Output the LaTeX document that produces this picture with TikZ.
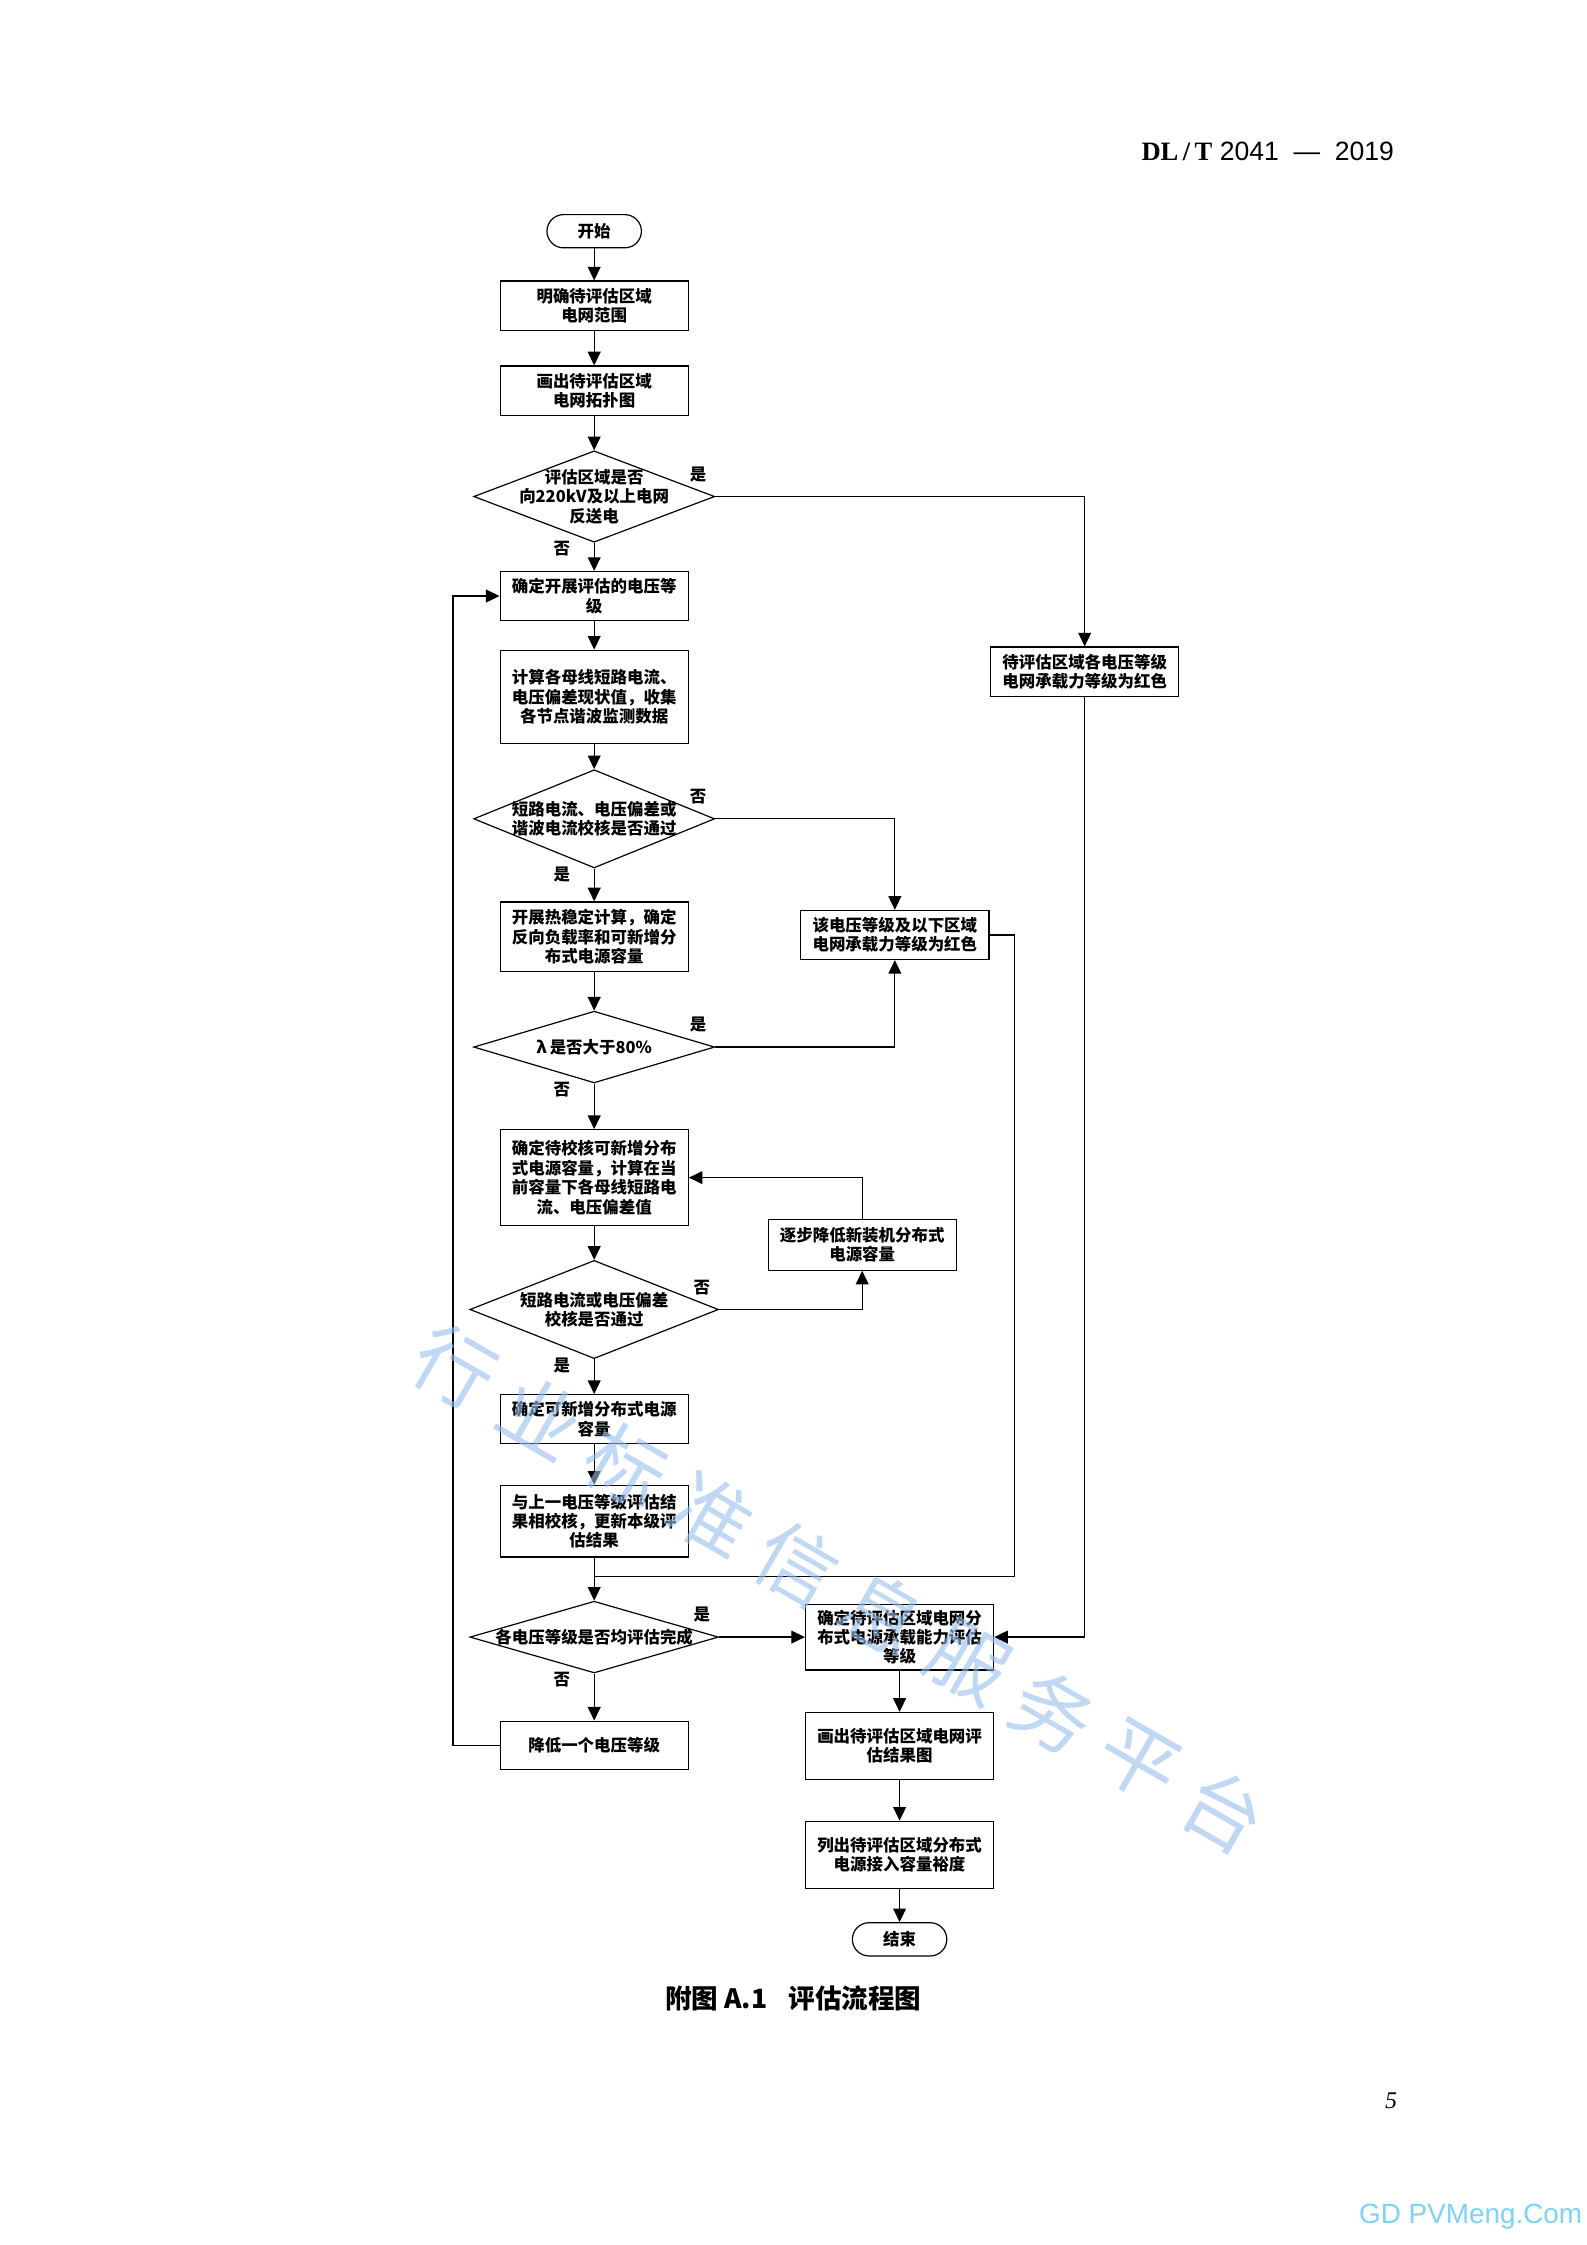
\documentclass[tikz,border=0pt]{standalone}
\usepackage{fontspec}
\setmainfont{Liberation Sans}
\newfontfamily\cjk{Noto Sans CJK SC}
\newfontfamily\tnr{Liberation Serif}
\usepackage{xcolor}
\usetikzlibrary{arrows.meta,shapes.geometric}

\definecolor{wmblue}{RGB}{150,190,238}
\definecolor{siteblue}{RGB}{125,211,247}

\begin{document}
\begin{tikzpicture}[x=0.18953mm,y=-0.18953mm,line width=0.45pt,
        every node/.style={font=\cjk\bfseries\fontsize{6.2}{7.3}\selectfont},
        proc/.style={draw,align=center,inner sep=1pt,minimum width=24.9mm},
        term/.style={draw,rounded corners=2.2mm,minimum width=12.5mm,minimum height=4.4mm,inner sep=0pt},
        decide/.style={draw,diamond,inner sep=0pt,minimum width=31.9mm},
        dtext/.style={align=center,inner sep=0pt},
        lbl/.style={inner sep=0pt},
        wm/.style={text=wmblue,rotate=-30,opacity=0.6,font=\cjk\fontsize{30}{30}\selectfont},
        arr/.style={-{Triangle[length=1.8mm,width=1.7mm]}}]
        \useasboundingbox (0,0) rectangle (1108,1568);
        \fill[white] (0,0) rectangle (1108,1568);

        % page header
        \node[anchor=base east,inner sep=0pt,font=\fontsize{10}{11}\selectfont] (hdr) at (974,112.2)
            {{\tnr\bfseries DL\,/\,T} 2041~~—~~2019};

        % main column
        \node[term] (st) at (415,161.5) {开始};
        \node[proc,minimum height=6.6mm] (b1) at (415,213.7) {明确待评估区域\\电网范围};
        \node[proc,minimum height=6.6mm] (b2) at (415,273) {画出待评估区域\\电网拓扑图};
        \node[decide,minimum height=12.1mm] (d1) at (415,346.8) {};
        \node[dtext] (d1t) at (d1) {评估区域是否\\向220kV及以上电网\\反送电};
        \node[proc,minimum height=6.5mm] (b3) at (415,416.3) {确定开展评估的电压等\\级};
        \node[proc,minimum height=12.3mm] (b4) at (415,486.6) {计算各母线短路电流、\\电压偏差现状值，收集\\各节点谐波监测数据};
        \node[decide,minimum height=13mm] (d2) at (415,571.9) {};
        \node[dtext] (d2t) at (d2) {短路电流、电压偏差或\\谐波电流校核是否通过};
        \node[proc,minimum height=9.2mm] (b5) at (415,654.2) {开展热稳定计算，确定\\反向负载率和可新增分\\布式电源容量};
        \node[decide,minimum height=9.5mm] (d3) at (415,731.3) {};
        \node[dtext] (d3t) at (d3) {λ\,是否大于80\%};
        \node[proc,minimum height=12.7mm] (b6) at (415,822.5) {确定待校核可新增分布\\式电源容量，计算在当\\前容量下各母线短路电\\流、电压偏差值};
        \node[decide,minimum width=32.9mm,minimum height=13mm] (d4) at (415,914.6) {};
        \node[dtext] (d4t) at (d4) {短路电流或电压偏差\\校核是否通过};
        \node[proc,minimum height=6.5mm] (b7) at (415,991.2) {确定可新增分布式电源\\容量};
        \node[proc,minimum height=9.5mm] (b8) at (415,1062.4) {与上一电压等级评估结\\果相校核，更新本级评\\估结果};
        \node[decide,minimum width=32.9mm,minimum height=9.5mm] (d5) at (415,1143.4) {};
        \node[dtext] (d5t) at (d5) {各电压等级是否均评估完成};
        \node[proc,minimum height=6.4mm] (b9) at (415,1219) {降低一个电压等级};

        % side boxes
        \node[proc,minimum height=6.6mm] (r1) at (757.6,469.3) {待评估区域各电压等级\\电网承载力等级为红色};
        \node[proc,minimum height=6.5mm] (r2) at (625,653) {该电压等级及以下区域\\电网承载力等级为红色};
        \node[proc,minimum height=6.7mm] (r3) at (602.2,869.5) {逐步降低新装机分布式\\电源容量};
        \node[proc,minimum height=8.7mm] (f1) at (628.3,1143.4) {确定待评估区域电网分\\布式电源承载能力评估\\等级};
        \node[proc,minimum height=8.9mm] (f2) at (628.3,1219.5) {画出待评估区域电网评\\估结果图};
        \node[proc,minimum height=8.9mm] (f3) at (628.3,1295.5) {列出待评估区域分布式\\电源接入容量裕度};
        \node[term] (en) at (628.3,1354.5) {结束};

        % straight links
        \foreach \a/\b in {st/b1,b1/b2,b2/d1,d1/b3,b3/b4,b4/d2,d2/b5,b5/d3,d3/b6,b6/d4,d4/b7,b7/b8,b8/d5,d5/b9,f1/f2,f2/f3,f3/en}
            \draw[arr] (\a.south) -- (\b.north);

        % yes / no
        \foreach \d/\e/\s in {d1/是/否,d2/否/是,d3/是/否,d4/否/是,d5/是/否}{
            \node[lbl] (\d-e) at ([shift={(-12,-15.5)}]\d.east) {\e};
            \node[lbl] (\d-s) at ([shift={(-22.5,4.3)}]\d.south) {\s};
        }

        % branches
        \draw[arr] (d1.east) -| (r1.north);
        \draw[arr] (r1.south) |- (f1.east);
        \draw[arr] (d2.east) -| (r2.north);
        \draw[arr] (d3.east) -| (r2.south);
        \coordinate (mrg) at (415,1100.8);
        \draw (r2.east) -- ++(17.5,0) |- (mrg);
        \draw[arr] (r3.north) |- (b6.east);
        \draw[arr] (d4.east) -| (r3.south);
        \draw[arr] (d5.east) -- (f1.west);
        \draw[arr] (b9.west) -- ++(-32.5,0) |- (b3.west);

        % caption and page
        \node[font=\cjk\bfseries\fontsize{10}{12}\selectfont] (cap) at (554,1396) {附图 A.1\hspace{0.8em}评估流程图};
        \node[font=\tnr\itshape\fontsize{9}{10}\selectfont] (pg) at (971.6,1467.6) {5};
        \node[anchor=east,inner sep=0pt,text=siteblue,font=\fontsize{10.5}{12}\selectfont] (site) at (1105.5,1548) {GD PVMeng.Com};

        % watermark
        \foreach \c [count=\i from 0] in {行,业,标,准,信,息,服,务,平,台}
            \node[wm] (wm\i) at ({318+59.7*\i},{955+34.4*\i}) {\c};
\end{tikzpicture}
\end{document}
